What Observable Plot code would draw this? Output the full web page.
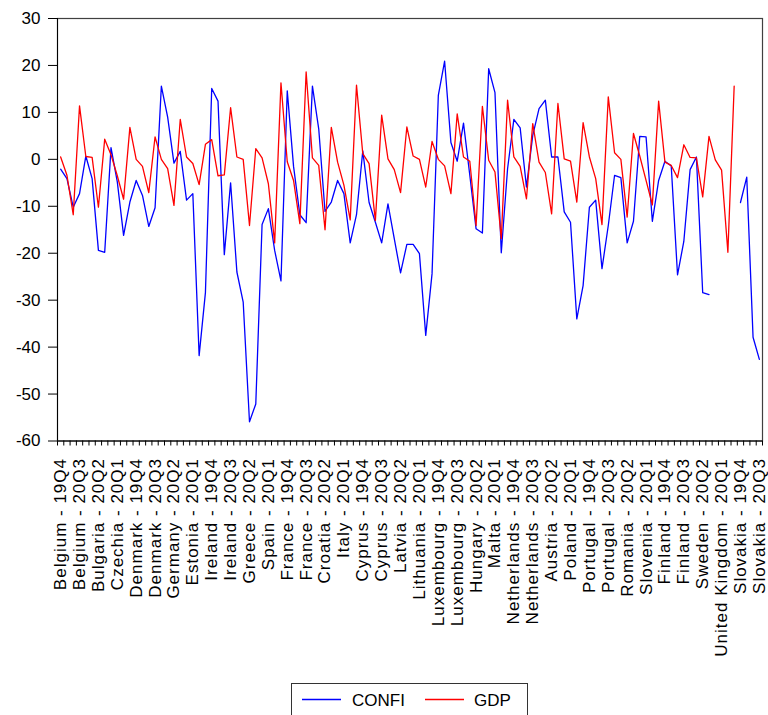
<!DOCTYPE html>
<html><head><meta charset="utf-8">
<script src="https://cdn.jsdelivr.net/npm/d3@7"></script>
<script src="https://cdn.jsdelivr.net/npm/@observablehq/plot@0.6"></script>
<style>
body{margin:0;background:#fff;font-family:"Liberation Sans",Arial,sans-serif;}
#wrap{position:relative;width:768px;height:715px;overflow:hidden;background:#fff;}
#wrap svg.chart{position:absolute;left:0;top:0;}
#legend{position:absolute;left:291px;top:683px;}
</style></head>
<body><div id="wrap"></div>
<script>
const countries = ["Belgium","Bulgaria","Czechia","Denmark","Germany","Estonia","Ireland","Greece","Spain","France","Croatia","Italy","Cyprus","Latvia","Lithuania","Luxembourg","Hungary","Malta","Netherlands","Austria","Poland","Portugal","Romania","Slovenia","Finland","Sweden","United Kingdom","Slovakia"];
const quarters = ["19Q4","20Q1","20Q2","20Q3"];
const confi = [
 -2.1,-4.1,-10.2,-7.3, 0.7,-4.1,-19.4,-19.8, 2.5,-4.8,-16.2,-9.1, -4.5,-7.7,-14.3,-10.3,
 15.6,9.0,-0.8,1.7, -8.7,-7.3,-41.8,-28.4, 15.1,12.4,-20.3,-5.0, -24.0,-30.4,-55.9,-52.1,
 -13.9,-10.5,-19.4,-25.9, 14.6,-1.5,-11.8,-13.5, 15.6,6.5,-11.1,-9.1, -4.5,-7.3,-17.8,-11.8,
 1.8,-9.2,-13.4,-17.8, -9.5,-16.9,-24.2,-18.1, -18.1,-20.1,-37.5,-24.4, 13.6,20.9,3.6,-0.4,
 7.7,-3.4,-14.8,-15.7, 19.3,14.2,-19.9,-2.0, 8.5,6.7,-5.9,5.1, 10.8,12.6,0.5,0.5,
 -11.2,-13.4,-34.0,-26.9, -10.2,-8.7,-23.3,-14.1, -3.4,-3.9,-17.8,-13.2, 4.9,4.8,-13.2,-4.5,
 -0.4,-1.4,-24.6,-17.5, -2.2,0.5,-28.4,-28.8, null,null,null,null, -9.2,-3.8,-37.9,-42.6
];
const gdp = [
 0.5,-3.4,-11.8,11.4, 0.6,0.4,-10.2,4.3, 1.0,-3.5,-8.5,6.8, 0.0,-1.5,-7.1,4.8,
 0.0,-2.0,-9.8,8.5, 0.5,-0.9,-5.4,3.2, 4.2,-3.5,-3.3,11.0, 0.5,0.0,-14.1,2.3,
 0.3,-5.2,-17.8,16.3, -0.5,-4.5,-13.7,18.6, 0.3,-1.3,-15.0,6.8, -0.6,-5.5,-12.9,15.8,
 1.2,-0.9,-13.0,9.4, 0.1,-2.2,-7.1,6.9, 0.7,0.0,-5.9,3.8, 0.0,-1.4,-7.3,9.7,
 0.5,-0.4,-14.1,11.3, -0.2,-2.7,-16.9,12.6, 0.5,-1.5,-8.4,7.6, -0.6,-2.8,-11.6,11.9,
 0.1,-0.4,-9.1,7.8, 0.5,-4.1,-13.9,13.3, 1.4,0.0,-12.3,5.5, 0.7,-4.5,-9.7,12.4,
 -0.6,-1.3,-3.9,3.1, 0.4,0.3,-8.0,4.9, -0.1,-2.3,-19.8,15.6, null,null,null,null
];
const yTicks = [-60,-50,-40,-30,-20,-10,0,10,20,30];
const seriesNames = ["CONFI","GDP"];
const seriesColors = ["#0000ff","#ff0000"];

const labels = countries.flatMap(c => quarters.map(q => `${c} - ${q}`));
const n = labels.length;
const data = d3.range(n).map(i => ({i, label: labels[i], confi: confi[i], gdp: gdp[i]}));

const chart = Plot.plot({
  width: 768, height: 675,
  marginLeft: 57, marginRight: 6, marginTop: 18, marginBottom: 234.5,
  style: {fontFamily: "Liberation Sans, Arial, sans-serif", fontSize: "17px", color: "#000", background: "#fff", overflow: "visible"},
  x: {domain: [-0.5, n - 0.5]},
  y: {domain: [-60, 30]},
  marks: [
    Plot.frame({stroke: "#404040", strokeWidth: 1.2}),
    Plot.axisY({ticks: yTicks, tickSize: 9, tickPadding: 8, label: null, fontSize: 17, stroke: "#000", tickFormat: d => String(d)}),
    Plot.axisX({ticks: d3.range(-0.5, n, 1), tickSize: 5, tickFormat: () => "", label: null, stroke: "#000"}),
    Plot.axisX({ticks: d3.range(0, n, 3), tickSize: 0, tickPadding: 17, tickRotate: -90, tickFormat: i => labels[i], label: null, fontSize: 17}),
    Plot.line(data, {x: "i", y: "confi", stroke: seriesColors[0], strokeWidth: 1.3}),
    Plot.line(data, {x: "i", y: "gdp", stroke: seriesColors[1], strokeWidth: 1.3}),
    Plot.ruleX([-0.5], {stroke: "#000"}),
    Plot.ruleY([-60], {stroke: "#000"})
  ]
});
chart.classList.add("chart");
chart.querySelectorAll("text").forEach(t => {
  if (t.closest('[aria-label="x-axis tick label"]')) t.style.letterSpacing = "1px";
});
document.getElementById("wrap").appendChild(chart);

// legend below the chart
const lg = d3.select("#wrap").append("svg").attr("id", "legend").attr("width", 238).attr("height", 34);
lg.append("rect").attr("x", 0.5).attr("y", 0.5).attr("width", 236).attr("height", 40).attr("fill", "#fff").attr("stroke", "#333");
const items = [{x: 11, tx: 61}, {x: 134, tx: 183}];
seriesNames.forEach((s, k) => {
  lg.append("line").attr("x1", items[k].x).attr("x2", items[k].x + 39).attr("y1", 16.5).attr("y2", 16.5).attr("stroke", seriesColors[k]).attr("stroke-width", 1.3);
  lg.append("text").attr("x", items[k].tx).attr("y", 22.5).attr("font-size", 17).attr("font-family", "Liberation Sans, Arial, sans-serif").text(s);
});
</script>
</body></html>
